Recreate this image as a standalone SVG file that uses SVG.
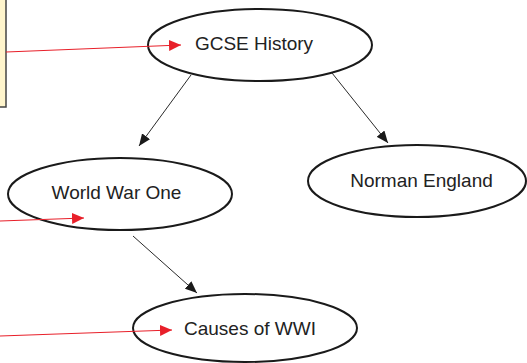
<svg xmlns="http://www.w3.org/2000/svg" width="527" height="363" viewBox="0 0 527 363">
<style>
.node ellipse{fill:#fff;stroke:#1a1a1a;stroke-width:2}
.node text{font-family:"Liberation Sans",Arial,sans-serif;font-size:19px;fill:#222;text-anchor:middle}
.blk{stroke:#2a2a2a;stroke-width:1;fill:none}
.red{stroke:#e8202a;stroke-width:1.2;fill:none}
</style>
<defs>
<marker id="ah" markerWidth="12" markerHeight="10" refX="12" refY="5" orient="auto" markerUnits="userSpaceOnUse">
<path d="M0,0 L12,5 L0,10 Z" fill="#1a1a1a"/>
</marker>
<marker id="rh" markerWidth="12" markerHeight="11" refX="12" refY="5.5" orient="auto" markerUnits="userSpaceOnUse">
<path d="M0,0 L12,5.5 L0,11 Z" fill="#e8202a"/>
</marker>
</defs>
<g id="note">
<rect x="-2" y="-2" width="8" height="109" fill="#fff5cc" stroke="#444" stroke-width="1.5"/>
</g>
<g id="gcse" class="node">
<ellipse cx="260" cy="45" rx="112" ry="36"/>
<text x="254" y="50">GCSE History</text>
</g>
<g id="wwo" class="node">
<ellipse cx="120" cy="194" rx="112" ry="36"/>
<text x="116.5" y="199">World War One</text>
</g>
<g id="norman" class="node">
<ellipse cx="417" cy="181" rx="109" ry="36"/>
<text x="421.5" y="187">Norman England</text>
</g>
<g id="causes" class="node">
<ellipse cx="245" cy="328" rx="112" ry="34"/>
<text x="250" y="335">Causes of WWI</text>
</g>
<g id="connectors">
<line class="blk" x1="191" y1="75" x2="139" y2="146" marker-end="url(#ah)"/>
<line class="blk" x1="332" y1="73" x2="388" y2="143" marker-end="url(#ah)"/>
<line class="blk" x1="133" y1="236" x2="197" y2="293" marker-end="url(#ah)"/>
<line class="red" x1="6" y1="52" x2="181" y2="45" marker-end="url(#rh)"/>
<line class="red" x1="0" y1="221" x2="84" y2="218" marker-end="url(#rh)"/>
<line class="red" x1="0" y1="336" x2="172" y2="330" marker-end="url(#rh)"/>
</g>
</svg>
